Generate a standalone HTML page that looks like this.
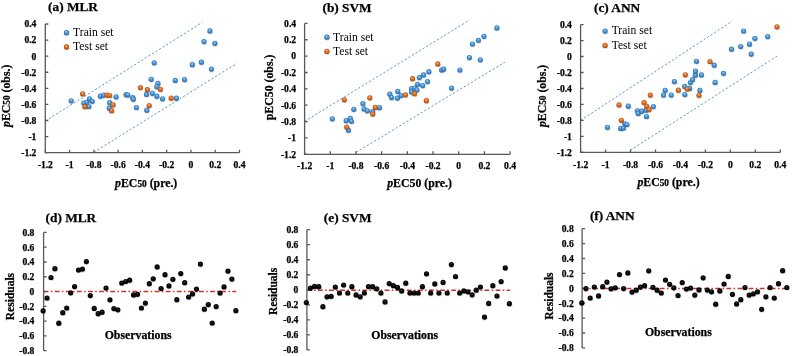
<!DOCTYPE html>
<html><head><meta charset="utf-8"><title>Figure</title>
<style>
html,body{margin:0;padding:0;background:#fff;}
svg{display:block;will-change:transform;filter:blur(0.35px);}
text{font-family:"Liberation Serif", serif;fill:#000;}
.tk,.tt,.al,.ob,.rs{stroke:#000;stroke-width:0.25px;}
.tk{font-size:9.6px;font-weight:bold;}
.lg{font-size:11.6px;}
.tt{font-size:13.3px;font-weight:bold;}
.al{font-size:11.8px;font-weight:bold;}
.ob{font-size:11.8px;font-weight:bold;}
.rs{font-size:11.5px;font-weight:bold;}
</style></head><body>
<svg width="792" height="356" viewBox="0 0 792 356">
<rect width="792" height="356" fill="#fff"/>

<defs>
 <radialGradient id="gb" cx="0.5" cy="0.5" r="0.5" fx="0.45" fy="0.28">
  <stop offset="0" stop-color="#a6d6f7"/>
  <stop offset="0.45" stop-color="#4f9ee0"/>
  <stop offset="1" stop-color="#2b6cab"/>
 </radialGradient>
 <radialGradient id="go" cx="0.5" cy="0.5" r="0.5" fx="0.45" fy="0.28">
  <stop offset="0" stop-color="#f9b57a"/>
  <stop offset="0.45" stop-color="#e97526"/>
  <stop offset="1" stop-color="#a94b12"/>
 </radialGradient>
 <radialGradient id="gk" cx="0.5" cy="0.5" r="0.5" fx="0.45" fy="0.3">
  <stop offset="0" stop-color="#3a3a3a"/>
  <stop offset="0.45" stop-color="#080808"/>
  <stop offset="1" stop-color="#000"/>
 </radialGradient>
 <radialGradient id="gs" cx="0.5" cy="0.5" r="0.5">
  <stop offset="0" stop-color="#000" stop-opacity="0.35"/>
  <stop offset="1" stop-color="#000" stop-opacity="0"/>
 </radialGradient>
</defs>

<line x1="45.3" y1="121.1" x2="202.4" y2="22.3" stroke="#5b9bd5" stroke-width="1" stroke-dasharray="2.2 2"/>
<line x1="93.9" y1="152.2" x2="236.9" y2="63.35" stroke="#5b9bd5" stroke-width="1" stroke-dasharray="2.2 2"/>
<path d="M45.3 24V152.7H239.5" fill="none" stroke="#595959" stroke-width="1.3"/>
<path d="M45.3 24H48.3M45.3 152.7V149.7M45.3 40.09H48.3M69.57 152.7V149.7M45.3 56.17H48.3M93.85 152.7V149.7M45.3 72.26H48.3M118.12 152.7V149.7M45.3 88.35H48.3M142.4 152.7V149.7M45.3 104.44H48.3M166.68 152.7V149.7M45.3 120.52H48.3M190.95 152.7V149.7M45.3 136.61H48.3M215.22 152.7V149.7M45.3 152.7H48.3M239.5 152.7V149.7" stroke="#595959" stroke-width="1.3" fill="none"/>
<text x="36.4" y="27.35" text-anchor="end" class="tk">0.4</text>
<text x="45.3" y="167.6" text-anchor="middle" class="tk">-1.2</text>
<text x="36.4" y="43.44" text-anchor="end" class="tk">0.2</text>
<text x="69.57" y="167.6" text-anchor="middle" class="tk">-1</text>
<text x="36.4" y="59.52" text-anchor="end" class="tk">0</text>
<text x="93.85" y="167.6" text-anchor="middle" class="tk">-0.8</text>
<text x="36.4" y="75.61" text-anchor="end" class="tk">-0.2</text>
<text x="118.12" y="167.6" text-anchor="middle" class="tk">-0.6</text>
<text x="36.4" y="91.7" text-anchor="end" class="tk">-0.4</text>
<text x="142.4" y="167.6" text-anchor="middle" class="tk">-0.4</text>
<text x="36.4" y="107.79" text-anchor="end" class="tk">-0.6</text>
<text x="166.68" y="167.6" text-anchor="middle" class="tk">-0.2</text>
<text x="36.4" y="123.87" text-anchor="end" class="tk">-0.8</text>
<text x="190.95" y="167.6" text-anchor="middle" class="tk">0</text>
<text x="36.4" y="139.96" text-anchor="end" class="tk">-1</text>
<text x="215.22" y="167.6" text-anchor="middle" class="tk">0.2</text>
<text x="36.4" y="156.05" text-anchor="end" class="tk">-1.2</text>
<text x="239.5" y="167.6" text-anchor="middle" class="tk">0.4</text>
<ellipse cx="71.5" cy="102.4" rx="3.5" ry="2.34" fill="url(#gs)"/><circle cx="71.2" cy="100.8" r="2.6" fill="url(#gb)"/>
<ellipse cx="84.1" cy="104.7" rx="3.5" ry="2.34" fill="url(#gs)"/><circle cx="83.8" cy="103.1" r="2.6" fill="url(#gb)"/>
<ellipse cx="87.1" cy="103.9" rx="3.5" ry="2.34" fill="url(#gs)"/><circle cx="86.8" cy="102.3" r="2.6" fill="url(#gb)"/>
<ellipse cx="89.8" cy="100.5" rx="3.5" ry="2.34" fill="url(#gs)"/><circle cx="89.5" cy="98.9" r="2.6" fill="url(#gb)"/>
<ellipse cx="92.5" cy="102.9" rx="3.5" ry="2.34" fill="url(#gs)"/><circle cx="92.2" cy="101.3" r="2.6" fill="url(#gb)"/>
<ellipse cx="89.1" cy="108.1" rx="3.5" ry="2.34" fill="url(#gs)"/><circle cx="88.8" cy="106.5" r="2.6" fill="url(#gb)"/>
<ellipse cx="100.7" cy="97.8" rx="3.5" ry="2.34" fill="url(#gs)"/><circle cx="100.4" cy="96.2" r="2.6" fill="url(#gb)"/>
<ellipse cx="104.1" cy="96.7" rx="3.5" ry="2.34" fill="url(#gs)"/><circle cx="103.8" cy="95.1" r="2.6" fill="url(#gb)"/>
<ellipse cx="110" cy="104.3" rx="3.5" ry="2.34" fill="url(#gs)"/><circle cx="109.7" cy="102.7" r="2.6" fill="url(#gb)"/>
<ellipse cx="109.6" cy="109.8" rx="3.5" ry="2.34" fill="url(#gs)"/><circle cx="109.3" cy="108.2" r="2.6" fill="url(#gb)"/>
<ellipse cx="116.4" cy="98.4" rx="3.5" ry="2.34" fill="url(#gs)"/><circle cx="116.1" cy="96.8" r="2.6" fill="url(#gb)"/>
<ellipse cx="126.4" cy="96.2" rx="3.5" ry="2.34" fill="url(#gs)"/><circle cx="126.1" cy="94.6" r="2.6" fill="url(#gb)"/>
<ellipse cx="128.1" cy="96.6" rx="3.5" ry="2.34" fill="url(#gs)"/><circle cx="127.8" cy="95" r="2.6" fill="url(#gb)"/>
<ellipse cx="133.1" cy="99.3" rx="3.5" ry="2.34" fill="url(#gs)"/><circle cx="132.8" cy="97.7" r="2.6" fill="url(#gb)"/>
<ellipse cx="133.6" cy="100.8" rx="3.5" ry="2.34" fill="url(#gs)"/><circle cx="133.3" cy="99.2" r="2.6" fill="url(#gb)"/>
<ellipse cx="136.7" cy="109.1" rx="3.5" ry="2.34" fill="url(#gs)"/><circle cx="136.4" cy="107.5" r="2.6" fill="url(#gb)"/>
<ellipse cx="147.1" cy="111.8" rx="3.5" ry="2.34" fill="url(#gs)"/><circle cx="146.8" cy="110.2" r="2.6" fill="url(#gb)"/>
<ellipse cx="146.8" cy="96" rx="3.5" ry="2.34" fill="url(#gs)"/><circle cx="146.5" cy="94.4" r="2.6" fill="url(#gb)"/>
<ellipse cx="152.6" cy="94.9" rx="3.5" ry="2.34" fill="url(#gs)"/><circle cx="152.3" cy="93.3" r="2.6" fill="url(#gb)"/>
<ellipse cx="157.2" cy="97.8" rx="3.5" ry="2.34" fill="url(#gs)"/><circle cx="156.9" cy="96.2" r="2.6" fill="url(#gb)"/>
<ellipse cx="162.8" cy="100.4" rx="3.5" ry="2.34" fill="url(#gs)"/><circle cx="162.5" cy="98.8" r="2.6" fill="url(#gb)"/>
<ellipse cx="176.7" cy="99.8" rx="3.5" ry="2.34" fill="url(#gs)"/><circle cx="176.4" cy="98.2" r="2.6" fill="url(#gb)"/>
<ellipse cx="151.5" cy="80.9" rx="3.5" ry="2.34" fill="url(#gs)"/><circle cx="151.2" cy="79.3" r="2.6" fill="url(#gb)"/>
<ellipse cx="158.3" cy="85" rx="3.5" ry="2.34" fill="url(#gs)"/><circle cx="158" cy="83.4" r="2.6" fill="url(#gb)"/>
<ellipse cx="157.2" cy="88.3" rx="3.5" ry="2.34" fill="url(#gs)"/><circle cx="156.9" cy="86.7" r="2.6" fill="url(#gb)"/>
<ellipse cx="154.5" cy="64.4" rx="3.5" ry="2.34" fill="url(#gs)"/><circle cx="154.2" cy="62.8" r="2.6" fill="url(#gb)"/>
<ellipse cx="175.5" cy="82" rx="3.5" ry="2.34" fill="url(#gs)"/><circle cx="175.2" cy="80.4" r="2.6" fill="url(#gb)"/>
<ellipse cx="184.8" cy="81.2" rx="3.5" ry="2.34" fill="url(#gs)"/><circle cx="184.5" cy="79.6" r="2.6" fill="url(#gb)"/>
<ellipse cx="192.6" cy="66.3" rx="3.5" ry="2.34" fill="url(#gs)"/><circle cx="192.3" cy="64.7" r="2.6" fill="url(#gb)"/>
<ellipse cx="201.7" cy="63.8" rx="3.5" ry="2.34" fill="url(#gs)"/><circle cx="201.4" cy="62.2" r="2.6" fill="url(#gb)"/>
<ellipse cx="211.7" cy="70.7" rx="3.5" ry="2.34" fill="url(#gs)"/><circle cx="211.4" cy="69.1" r="2.6" fill="url(#gb)"/>
<ellipse cx="204.3" cy="43.2" rx="3.5" ry="2.34" fill="url(#gs)"/><circle cx="204" cy="41.6" r="2.6" fill="url(#gb)"/>
<ellipse cx="215.2" cy="44.9" rx="3.5" ry="2.34" fill="url(#gs)"/><circle cx="214.9" cy="43.3" r="2.6" fill="url(#gb)"/>
<ellipse cx="210.2" cy="32.5" rx="3.5" ry="2.34" fill="url(#gs)"/><circle cx="209.9" cy="30.9" r="2.6" fill="url(#gb)"/>
<ellipse cx="82.9" cy="95.4" rx="3.5" ry="2.34" fill="url(#gs)"/><circle cx="82.6" cy="93.8" r="2.6" fill="url(#go)"/>
<ellipse cx="85.2" cy="108.3" rx="3.5" ry="2.34" fill="url(#gs)"/><circle cx="84.9" cy="106.7" r="2.6" fill="url(#go)"/>
<ellipse cx="107.3" cy="96.7" rx="3.5" ry="2.34" fill="url(#gs)"/><circle cx="107" cy="95.1" r="2.6" fill="url(#go)"/>
<ellipse cx="110" cy="97.1" rx="3.5" ry="2.34" fill="url(#gs)"/><circle cx="109.7" cy="95.5" r="2.6" fill="url(#go)"/>
<ellipse cx="113.4" cy="106.4" rx="3.5" ry="2.34" fill="url(#gs)"/><circle cx="113.1" cy="104.8" r="2.6" fill="url(#go)"/>
<ellipse cx="111.9" cy="112.3" rx="3.5" ry="2.34" fill="url(#gs)"/><circle cx="111.6" cy="110.7" r="2.6" fill="url(#go)"/>
<ellipse cx="140.7" cy="89.2" rx="3.5" ry="2.34" fill="url(#gs)"/><circle cx="140.4" cy="87.6" r="2.6" fill="url(#go)"/>
<ellipse cx="147.7" cy="91.3" rx="3.5" ry="2.34" fill="url(#gs)"/><circle cx="147.4" cy="89.7" r="2.6" fill="url(#go)"/>
<ellipse cx="160.7" cy="90.9" rx="3.5" ry="2.34" fill="url(#gs)"/><circle cx="160.4" cy="89.3" r="2.6" fill="url(#go)"/>
<ellipse cx="171.5" cy="99.8" rx="3.5" ry="2.34" fill="url(#gs)"/><circle cx="171.2" cy="98.2" r="2.6" fill="url(#go)"/>
<ellipse cx="149.5" cy="107.1" rx="3.5" ry="2.34" fill="url(#gs)"/><circle cx="149.2" cy="105.5" r="2.6" fill="url(#go)"/>
<ellipse cx="66.8" cy="34.3" rx="3.55" ry="2.38" fill="url(#gs)"/><circle cx="66.5" cy="32.7" r="2.65" fill="url(#gb)"/>
<ellipse cx="66.8" cy="48.6" rx="3.55" ry="2.38" fill="url(#gs)"/><circle cx="66.5" cy="47" r="2.65" fill="url(#go)"/>
<text x="73.1" y="36" class="lg">Train set</text>
<text x="73.1" y="50.3" class="lg">Test set</text>
<text x="48.1" y="10.9" class="tt">(a) MLR</text>
<text x="115.1" y="186.7" class="al"><tspan font-style="italic">p</tspan>EC<tspan font-size="9.3">50</tspan> (pre.)</text>
<text transform="translate(10.1 127) rotate(-90)" class="al"><tspan font-style="italic">p</tspan>EC<tspan font-size="9.3">50</tspan> (obs.)</text>
<line x1="304.6" y1="121.4" x2="469.5" y2="20.1" stroke="#5b9bd5" stroke-width="1" stroke-dasharray="2.2 2"/>
<line x1="356.1" y1="152.3" x2="504.9" y2="62.2" stroke="#5b9bd5" stroke-width="1" stroke-dasharray="2.2 2"/>
<path d="M304.6 23.4V154.3H510.1" fill="none" stroke="#595959" stroke-width="1.3"/>
<path d="M304.6 23.4H307.6M304.6 154.3V151.3M304.6 39.76H307.6M330.29 154.3V151.3M304.6 56.12H307.6M355.98 154.3V151.3M304.6 72.49H307.6M381.66 154.3V151.3M304.6 88.85H307.6M407.35 154.3V151.3M304.6 105.21H307.6M433.04 154.3V151.3M304.6 121.58H307.6M458.73 154.3V151.3M304.6 137.94H307.6M484.41 154.3V151.3M304.6 154.3H307.6M510.1 154.3V151.3" stroke="#595959" stroke-width="1.3" fill="none"/>
<text x="296.1" y="26.75" text-anchor="end" class="tk">0.4</text>
<text x="304.6" y="169.2" text-anchor="middle" class="tk">-1.2</text>
<text x="296.1" y="43.11" text-anchor="end" class="tk">0.2</text>
<text x="330.29" y="169.2" text-anchor="middle" class="tk">-1</text>
<text x="296.1" y="59.48" text-anchor="end" class="tk">0</text>
<text x="355.98" y="169.2" text-anchor="middle" class="tk">-0.8</text>
<text x="296.1" y="75.84" text-anchor="end" class="tk">-0.2</text>
<text x="381.66" y="169.2" text-anchor="middle" class="tk">-0.6</text>
<text x="296.1" y="92.2" text-anchor="end" class="tk">-0.4</text>
<text x="407.35" y="169.2" text-anchor="middle" class="tk">-0.4</text>
<text x="296.1" y="108.56" text-anchor="end" class="tk">-0.6</text>
<text x="433.04" y="169.2" text-anchor="middle" class="tk">-0.2</text>
<text x="296.1" y="124.93" text-anchor="end" class="tk">-0.8</text>
<text x="458.73" y="169.2" text-anchor="middle" class="tk">0</text>
<text x="296.1" y="141.29" text-anchor="end" class="tk">-1</text>
<text x="484.41" y="169.2" text-anchor="middle" class="tk">0.2</text>
<text x="296.1" y="157.65" text-anchor="end" class="tk">-1.2</text>
<text x="510.1" y="169.2" text-anchor="middle" class="tk">0.4</text>
<ellipse cx="332.6" cy="120.4" rx="3.5" ry="2.34" fill="url(#gs)"/><circle cx="332.3" cy="118.8" r="2.6" fill="url(#gb)"/>
<ellipse cx="346.5" cy="122.3" rx="3.5" ry="2.34" fill="url(#gs)"/><circle cx="346.2" cy="120.7" r="2.6" fill="url(#gb)"/>
<ellipse cx="350.6" cy="120" rx="3.5" ry="2.34" fill="url(#gs)"/><circle cx="350.3" cy="118.4" r="2.6" fill="url(#gb)"/>
<ellipse cx="351.8" cy="122.9" rx="3.5" ry="2.34" fill="url(#gs)"/><circle cx="351.5" cy="121.3" r="2.6" fill="url(#gb)"/>
<ellipse cx="348.7" cy="131.8" rx="3.5" ry="2.34" fill="url(#gs)"/><circle cx="348.4" cy="130.2" r="2.6" fill="url(#gb)"/>
<ellipse cx="354.1" cy="110.9" rx="3.5" ry="2.34" fill="url(#gs)"/><circle cx="353.8" cy="109.3" r="2.6" fill="url(#gb)"/>
<ellipse cx="363.2" cy="105.2" rx="3.5" ry="2.34" fill="url(#gs)"/><circle cx="362.9" cy="103.6" r="2.6" fill="url(#gb)"/>
<ellipse cx="364.4" cy="110.5" rx="3.5" ry="2.34" fill="url(#gs)"/><circle cx="364.1" cy="108.9" r="2.6" fill="url(#gb)"/>
<ellipse cx="367.6" cy="112.4" rx="3.5" ry="2.34" fill="url(#gs)"/><circle cx="367.3" cy="110.8" r="2.6" fill="url(#gb)"/>
<ellipse cx="373" cy="113.3" rx="3.5" ry="2.34" fill="url(#gs)"/><circle cx="372.7" cy="111.7" r="2.6" fill="url(#gb)"/>
<ellipse cx="379.8" cy="109.3" rx="3.5" ry="2.34" fill="url(#gs)"/><circle cx="379.5" cy="107.7" r="2.6" fill="url(#gb)"/>
<ellipse cx="390.2" cy="95.8" rx="3.5" ry="2.34" fill="url(#gs)"/><circle cx="389.9" cy="94.2" r="2.6" fill="url(#gb)"/>
<ellipse cx="391.9" cy="99.2" rx="3.5" ry="2.34" fill="url(#gs)"/><circle cx="391.6" cy="97.6" r="2.6" fill="url(#gb)"/>
<ellipse cx="398.1" cy="93" rx="3.5" ry="2.34" fill="url(#gs)"/><circle cx="397.8" cy="91.4" r="2.6" fill="url(#gb)"/>
<ellipse cx="397.7" cy="99.7" rx="3.5" ry="2.34" fill="url(#gs)"/><circle cx="397.4" cy="98.1" r="2.6" fill="url(#gb)"/>
<ellipse cx="401.4" cy="97.2" rx="3.5" ry="2.34" fill="url(#gs)"/><circle cx="401.1" cy="95.6" r="2.6" fill="url(#gb)"/>
<ellipse cx="411.8" cy="90.2" rx="3.5" ry="2.34" fill="url(#gs)"/><circle cx="411.5" cy="88.6" r="2.6" fill="url(#gb)"/>
<ellipse cx="411.8" cy="93.6" rx="3.5" ry="2.34" fill="url(#gs)"/><circle cx="411.5" cy="92" r="2.6" fill="url(#gb)"/>
<ellipse cx="414.9" cy="89.6" rx="3.5" ry="2.34" fill="url(#gs)"/><circle cx="414.6" cy="88" r="2.6" fill="url(#gb)"/>
<ellipse cx="417.2" cy="91.6" rx="3.5" ry="2.34" fill="url(#gs)"/><circle cx="416.9" cy="90" r="2.6" fill="url(#gb)"/>
<ellipse cx="417.9" cy="85.9" rx="3.5" ry="2.34" fill="url(#gs)"/><circle cx="417.6" cy="84.3" r="2.6" fill="url(#gb)"/>
<ellipse cx="423" cy="87.2" rx="3.5" ry="2.34" fill="url(#gs)"/><circle cx="422.7" cy="85.6" r="2.6" fill="url(#gb)"/>
<ellipse cx="419.6" cy="79.2" rx="3.5" ry="2.34" fill="url(#gs)"/><circle cx="419.3" cy="77.6" r="2.6" fill="url(#gb)"/>
<ellipse cx="423.9" cy="76.5" rx="3.5" ry="2.34" fill="url(#gs)"/><circle cx="423.6" cy="74.9" r="2.6" fill="url(#gb)"/>
<ellipse cx="427.8" cy="83.2" rx="3.5" ry="2.34" fill="url(#gs)"/><circle cx="427.5" cy="81.6" r="2.6" fill="url(#gb)"/>
<ellipse cx="429.2" cy="73.3" rx="3.5" ry="2.34" fill="url(#gs)"/><circle cx="428.9" cy="71.7" r="2.6" fill="url(#gb)"/>
<ellipse cx="441.9" cy="71.6" rx="3.5" ry="2.34" fill="url(#gs)"/><circle cx="441.6" cy="70" r="2.6" fill="url(#gb)"/>
<ellipse cx="443.9" cy="70.8" rx="3.5" ry="2.34" fill="url(#gs)"/><circle cx="443.6" cy="69.2" r="2.6" fill="url(#gb)"/>
<ellipse cx="460.2" cy="71.6" rx="3.5" ry="2.34" fill="url(#gs)"/><circle cx="459.9" cy="70" r="2.6" fill="url(#gb)"/>
<ellipse cx="469.7" cy="59.2" rx="3.5" ry="2.34" fill="url(#gs)"/><circle cx="469.4" cy="57.6" r="2.6" fill="url(#gb)"/>
<ellipse cx="480.6" cy="61.4" rx="3.5" ry="2.34" fill="url(#gs)"/><circle cx="480.3" cy="59.8" r="2.6" fill="url(#gb)"/>
<ellipse cx="451.8" cy="89.7" rx="3.5" ry="2.34" fill="url(#gs)"/><circle cx="451.5" cy="88.1" r="2.6" fill="url(#gb)"/>
<ellipse cx="472.7" cy="45.6" rx="3.5" ry="2.34" fill="url(#gs)"/><circle cx="472.4" cy="44" r="2.6" fill="url(#gb)"/>
<ellipse cx="478.7" cy="41.9" rx="3.5" ry="2.34" fill="url(#gs)"/><circle cx="478.4" cy="40.3" r="2.6" fill="url(#gb)"/>
<ellipse cx="484.3" cy="37.9" rx="3.5" ry="2.34" fill="url(#gs)"/><circle cx="484" cy="36.3" r="2.6" fill="url(#gb)"/>
<ellipse cx="497.2" cy="29.5" rx="3.5" ry="2.34" fill="url(#gs)"/><circle cx="496.9" cy="27.9" r="2.6" fill="url(#gb)"/>
<ellipse cx="344.6" cy="101.4" rx="3.5" ry="2.34" fill="url(#gs)"/><circle cx="344.3" cy="99.8" r="2.6" fill="url(#go)"/>
<ellipse cx="347" cy="128.6" rx="3.5" ry="2.34" fill="url(#gs)"/><circle cx="346.7" cy="127" r="2.6" fill="url(#go)"/>
<ellipse cx="370.1" cy="99.4" rx="3.5" ry="2.34" fill="url(#gs)"/><circle cx="369.8" cy="97.8" r="2.6" fill="url(#go)"/>
<ellipse cx="375.6" cy="109" rx="3.5" ry="2.34" fill="url(#gs)"/><circle cx="375.3" cy="107.4" r="2.6" fill="url(#go)"/>
<ellipse cx="373" cy="115.6" rx="3.5" ry="2.34" fill="url(#gs)"/><circle cx="372.7" cy="114" r="2.6" fill="url(#go)"/>
<ellipse cx="412.9" cy="80.3" rx="3.5" ry="2.34" fill="url(#gs)"/><circle cx="412.6" cy="78.7" r="2.6" fill="url(#go)"/>
<ellipse cx="405.8" cy="96.4" rx="3.5" ry="2.34" fill="url(#gs)"/><circle cx="405.5" cy="94.8" r="2.6" fill="url(#go)"/>
<ellipse cx="414.8" cy="95.3" rx="3.5" ry="2.34" fill="url(#gs)"/><circle cx="414.5" cy="93.7" r="2.6" fill="url(#go)"/>
<ellipse cx="426.7" cy="102.3" rx="3.5" ry="2.34" fill="url(#gs)"/><circle cx="426.4" cy="100.7" r="2.6" fill="url(#go)"/>
<ellipse cx="438.1" cy="65.5" rx="3.5" ry="2.34" fill="url(#gs)"/><circle cx="437.8" cy="63.9" r="2.6" fill="url(#go)"/>
<ellipse cx="327.2" cy="38.8" rx="3.55" ry="2.38" fill="url(#gs)"/><circle cx="326.9" cy="37.2" r="2.65" fill="url(#gb)"/>
<ellipse cx="327.2" cy="53" rx="3.55" ry="2.38" fill="url(#gs)"/><circle cx="326.9" cy="51.4" r="2.65" fill="url(#go)"/>
<text x="333.1" y="40.5" class="lg">Train set</text>
<text x="333.1" y="54.7" class="lg">Test set</text>
<text x="322.5" y="11.9" class="tt">(b) SVM</text>
<text x="387.2" y="187.3" class="al"><tspan font-style="italic">p</tspan>EC50 (pre.)</text>
<text transform="translate(273.2 120.2) rotate(-90)" class="al">pEC50 (obs.)</text>
<line x1="580.6" y1="120.3" x2="732.2" y2="21.2" stroke="#5b9bd5" stroke-width="1" stroke-dasharray="2.2 2"/>
<line x1="630.4" y1="150.1" x2="778.9" y2="55" stroke="#5b9bd5" stroke-width="1" stroke-dasharray="2.2 2"/>
<path d="M580.6 24.55V152.4H780.3" fill="none" stroke="#595959" stroke-width="1.3"/>
<path d="M580.6 24.55H583.6M580.6 152.4V149.4M580.6 40.53H583.6M605.56 152.4V149.4M580.6 56.51H583.6M630.52 152.4V149.4M580.6 72.49H583.6M655.49 152.4V149.4M580.6 88.48H583.6M680.45 152.4V149.4M580.6 104.46H583.6M705.41 152.4V149.4M580.6 120.44H583.6M730.38 152.4V149.4M580.6 136.42H583.6M755.34 152.4V149.4M580.6 152.4H583.6M780.3 152.4V149.4" stroke="#595959" stroke-width="1.3" fill="none"/>
<text x="571.9" y="27.9" text-anchor="end" class="tk">0.4</text>
<text x="580.6" y="167.6" text-anchor="middle" class="tk">-1.2</text>
<text x="571.9" y="43.88" text-anchor="end" class="tk">0.2</text>
<text x="605.56" y="167.6" text-anchor="middle" class="tk">-1</text>
<text x="571.9" y="59.86" text-anchor="end" class="tk">0</text>
<text x="630.52" y="167.6" text-anchor="middle" class="tk">-0.8</text>
<text x="571.9" y="75.84" text-anchor="end" class="tk">-0.2</text>
<text x="655.49" y="167.6" text-anchor="middle" class="tk">-0.6</text>
<text x="571.9" y="91.83" text-anchor="end" class="tk">-0.4</text>
<text x="680.45" y="167.6" text-anchor="middle" class="tk">-0.4</text>
<text x="571.9" y="107.81" text-anchor="end" class="tk">-0.6</text>
<text x="705.41" y="167.6" text-anchor="middle" class="tk">-0.2</text>
<text x="571.9" y="123.79" text-anchor="end" class="tk">-0.8</text>
<text x="730.38" y="167.6" text-anchor="middle" class="tk">0</text>
<text x="571.9" y="139.77" text-anchor="end" class="tk">-1</text>
<text x="755.34" y="167.6" text-anchor="middle" class="tk">0.2</text>
<text x="571.9" y="155.75" text-anchor="end" class="tk">-1.2</text>
<text x="780.3" y="167.6" text-anchor="middle" class="tk">0.4</text>
<ellipse cx="607.7" cy="128.9" rx="3.5" ry="2.34" fill="url(#gs)"/><circle cx="607.4" cy="127.3" r="2.6" fill="url(#gb)"/>
<ellipse cx="621" cy="130" rx="3.5" ry="2.34" fill="url(#gs)"/><circle cx="620.7" cy="128.4" r="2.6" fill="url(#gb)"/>
<ellipse cx="623.8" cy="129.6" rx="3.5" ry="2.34" fill="url(#gs)"/><circle cx="623.5" cy="128" r="2.6" fill="url(#gb)"/>
<ellipse cx="625.2" cy="125.4" rx="3.5" ry="2.34" fill="url(#gs)"/><circle cx="624.9" cy="123.8" r="2.6" fill="url(#gb)"/>
<ellipse cx="627.3" cy="126.1" rx="3.5" ry="2.34" fill="url(#gs)"/><circle cx="627" cy="124.5" r="2.6" fill="url(#gb)"/>
<ellipse cx="628.6" cy="107.8" rx="3.5" ry="2.34" fill="url(#gs)"/><circle cx="628.3" cy="106.2" r="2.6" fill="url(#gb)"/>
<ellipse cx="637.6" cy="112.4" rx="3.5" ry="2.34" fill="url(#gs)"/><circle cx="637.3" cy="110.8" r="2.6" fill="url(#gb)"/>
<ellipse cx="638.5" cy="115" rx="3.5" ry="2.34" fill="url(#gs)"/><circle cx="638.2" cy="113.4" r="2.6" fill="url(#gb)"/>
<ellipse cx="642" cy="112.8" rx="3.5" ry="2.34" fill="url(#gs)"/><circle cx="641.7" cy="111.2" r="2.6" fill="url(#gb)"/>
<ellipse cx="646.4" cy="111.8" rx="3.5" ry="2.34" fill="url(#gs)"/><circle cx="646.1" cy="110.2" r="2.6" fill="url(#gb)"/>
<ellipse cx="646.8" cy="118.1" rx="3.5" ry="2.34" fill="url(#gs)"/><circle cx="646.5" cy="116.5" r="2.6" fill="url(#gb)"/>
<ellipse cx="653.6" cy="108.2" rx="3.5" ry="2.34" fill="url(#gs)"/><circle cx="653.3" cy="106.6" r="2.6" fill="url(#gb)"/>
<ellipse cx="663.8" cy="96.7" rx="3.5" ry="2.34" fill="url(#gs)"/><circle cx="663.5" cy="95.1" r="2.6" fill="url(#gb)"/>
<ellipse cx="665.5" cy="91.9" rx="3.5" ry="2.34" fill="url(#gs)"/><circle cx="665.2" cy="90.3" r="2.6" fill="url(#gb)"/>
<ellipse cx="671.5" cy="96.7" rx="3.5" ry="2.34" fill="url(#gs)"/><circle cx="671.2" cy="95.1" r="2.6" fill="url(#gb)"/>
<ellipse cx="674.7" cy="83.2" rx="3.5" ry="2.34" fill="url(#gs)"/><circle cx="674.4" cy="81.6" r="2.6" fill="url(#gb)"/>
<ellipse cx="685" cy="88" rx="3.5" ry="2.34" fill="url(#gs)"/><circle cx="684.7" cy="86.4" r="2.6" fill="url(#gb)"/>
<ellipse cx="685.1" cy="96.1" rx="3.5" ry="2.34" fill="url(#gs)"/><circle cx="684.8" cy="94.5" r="2.6" fill="url(#gb)"/>
<ellipse cx="689.9" cy="90" rx="3.5" ry="2.34" fill="url(#gs)"/><circle cx="689.6" cy="88.4" r="2.6" fill="url(#gb)"/>
<ellipse cx="690.7" cy="84.2" rx="3.5" ry="2.34" fill="url(#gs)"/><circle cx="690.4" cy="82.6" r="2.6" fill="url(#gb)"/>
<ellipse cx="692.9" cy="81.2" rx="3.5" ry="2.34" fill="url(#gs)"/><circle cx="692.6" cy="79.6" r="2.6" fill="url(#gb)"/>
<ellipse cx="695.6" cy="76.8" rx="3.5" ry="2.34" fill="url(#gs)"/><circle cx="695.3" cy="75.2" r="2.6" fill="url(#gb)"/>
<ellipse cx="695.8" cy="72.7" rx="3.5" ry="2.34" fill="url(#gs)"/><circle cx="695.5" cy="71.1" r="2.6" fill="url(#gb)"/>
<ellipse cx="696.8" cy="62.9" rx="3.5" ry="2.34" fill="url(#gs)"/><circle cx="696.5" cy="61.3" r="2.6" fill="url(#gb)"/>
<ellipse cx="701.7" cy="76.5" rx="3.5" ry="2.34" fill="url(#gs)"/><circle cx="701.4" cy="74.9" r="2.6" fill="url(#gb)"/>
<ellipse cx="700.2" cy="92" rx="3.5" ry="2.34" fill="url(#gs)"/><circle cx="699.9" cy="90.4" r="2.6" fill="url(#gb)"/>
<ellipse cx="714.5" cy="66.8" rx="3.5" ry="2.34" fill="url(#gs)"/><circle cx="714.2" cy="65.2" r="2.6" fill="url(#gb)"/>
<ellipse cx="723.8" cy="74.9" rx="3.5" ry="2.34" fill="url(#gs)"/><circle cx="723.5" cy="73.3" r="2.6" fill="url(#gb)"/>
<ellipse cx="715.4" cy="84" rx="3.5" ry="2.34" fill="url(#gs)"/><circle cx="715.1" cy="82.4" r="2.6" fill="url(#gb)"/>
<ellipse cx="731.8" cy="50.8" rx="3.5" ry="2.34" fill="url(#gs)"/><circle cx="731.5" cy="49.2" r="2.6" fill="url(#gb)"/>
<ellipse cx="741" cy="48.1" rx="3.5" ry="2.34" fill="url(#gs)"/><circle cx="740.7" cy="46.5" r="2.6" fill="url(#gb)"/>
<ellipse cx="743.9" cy="32.6" rx="3.5" ry="2.34" fill="url(#gs)"/><circle cx="743.6" cy="31" r="2.6" fill="url(#gb)"/>
<ellipse cx="749.8" cy="45.8" rx="3.5" ry="2.34" fill="url(#gs)"/><circle cx="749.5" cy="44.2" r="2.6" fill="url(#gb)"/>
<ellipse cx="755.2" cy="39.9" rx="3.5" ry="2.34" fill="url(#gs)"/><circle cx="754.9" cy="38.3" r="2.6" fill="url(#gb)"/>
<ellipse cx="751.5" cy="55.7" rx="3.5" ry="2.34" fill="url(#gs)"/><circle cx="751.2" cy="54.1" r="2.6" fill="url(#gb)"/>
<ellipse cx="768" cy="38.2" rx="3.5" ry="2.34" fill="url(#gs)"/><circle cx="767.7" cy="36.6" r="2.6" fill="url(#gb)"/>
<ellipse cx="619.3" cy="106.5" rx="3.5" ry="2.34" fill="url(#gs)"/><circle cx="619" cy="104.9" r="2.6" fill="url(#go)"/>
<ellipse cx="621.6" cy="121.9" rx="3.5" ry="2.34" fill="url(#gs)"/><circle cx="621.3" cy="120.3" r="2.6" fill="url(#go)"/>
<ellipse cx="644.4" cy="104.2" rx="3.5" ry="2.34" fill="url(#gs)"/><circle cx="644.1" cy="102.6" r="2.6" fill="url(#go)"/>
<ellipse cx="647.1" cy="107.9" rx="3.5" ry="2.34" fill="url(#gs)"/><circle cx="646.8" cy="106.3" r="2.6" fill="url(#go)"/>
<ellipse cx="649.4" cy="111.2" rx="3.5" ry="2.34" fill="url(#gs)"/><circle cx="649.1" cy="109.6" r="2.6" fill="url(#go)"/>
<ellipse cx="650.6" cy="96.7" rx="3.5" ry="2.34" fill="url(#gs)"/><circle cx="650.3" cy="95.1" r="2.6" fill="url(#go)"/>
<ellipse cx="678.7" cy="91.8" rx="3.5" ry="2.34" fill="url(#gs)"/><circle cx="678.4" cy="90.2" r="2.6" fill="url(#go)"/>
<ellipse cx="685.6" cy="76.4" rx="3.5" ry="2.34" fill="url(#gs)"/><circle cx="685.3" cy="74.8" r="2.6" fill="url(#go)"/>
<ellipse cx="687.5" cy="90.6" rx="3.5" ry="2.34" fill="url(#gs)"/><circle cx="687.2" cy="89" r="2.6" fill="url(#go)"/>
<ellipse cx="699.3" cy="96.9" rx="3.5" ry="2.34" fill="url(#gs)"/><circle cx="699" cy="95.3" r="2.6" fill="url(#go)"/>
<ellipse cx="710.3" cy="63.1" rx="3.5" ry="2.34" fill="url(#gs)"/><circle cx="710" cy="61.5" r="2.6" fill="url(#go)"/>
<ellipse cx="777.3" cy="28.4" rx="3.5" ry="2.34" fill="url(#gs)"/><circle cx="777" cy="26.8" r="2.6" fill="url(#go)"/>
<ellipse cx="605.4" cy="32.7" rx="3.55" ry="2.38" fill="url(#gs)"/><circle cx="605.1" cy="31.1" r="2.65" fill="url(#gb)"/>
<ellipse cx="605.4" cy="47" rx="3.55" ry="2.38" fill="url(#gs)"/><circle cx="605.1" cy="45.4" r="2.65" fill="url(#go)"/>
<text x="611.7" y="34.4" class="lg">Train set</text>
<text x="611.7" y="48.7" class="lg">Test set</text>
<text x="594" y="11.7" class="tt">(c) ANN</text>
<text x="637.4" y="186.2" class="al"><tspan font-style="italic">p</tspan>EC<tspan font-size="9.3">50</tspan> (pre.)</text>
<text transform="translate(546.4 127.1) rotate(-90)" class="al"><tspan font-style="italic">p</tspan>EC<tspan font-size="9.3">50</tspan> (obs.)</text>
<line x1="43.6" y1="291.55" x2="236.2" y2="291.55" stroke="#d2302a" stroke-width="1.5" stroke-dasharray="4.8 2.4 1.5 2.4"/>
<path d="M43.6 232.4V350.7M43.6 232.4H46.6M43.6 247.19H46.6M43.6 261.98H46.6M43.6 276.76H46.6M43.6 291.55H46.6M43.6 306.34H46.6M43.6 321.12H46.6M43.6 335.91H46.6M43.6 350.7H46.6" stroke="#595959" stroke-width="1.3" fill="none"/>
<text x="34.4" y="235.75" text-anchor="end" class="tk">0.8</text>
<text x="34.4" y="250.54" text-anchor="end" class="tk">0.6</text>
<text x="34.4" y="265.33" text-anchor="end" class="tk">0.4</text>
<text x="34.4" y="280.11" text-anchor="end" class="tk">0.2</text>
<text x="34.4" y="294.9" text-anchor="end" class="tk">0</text>
<text x="34.4" y="309.69" text-anchor="end" class="tk">-0.2</text>
<text x="34.4" y="324.48" text-anchor="end" class="tk">-0.4</text>
<text x="34.4" y="339.26" text-anchor="end" class="tk">-0.6</text>
<text x="34.4" y="354.05" text-anchor="end" class="tk">-0.8</text>
<ellipse cx="43.4" cy="312.4" rx="3.5" ry="2.34" fill="url(#gs)"/><circle cx="43.1" cy="310.8" r="2.6" fill="url(#gk)"/>
<ellipse cx="47.33" cy="299.6" rx="3.5" ry="2.34" fill="url(#gs)"/><circle cx="47.03" cy="298" r="2.6" fill="url(#gk)"/>
<ellipse cx="51.27" cy="279.1" rx="3.5" ry="2.34" fill="url(#gs)"/><circle cx="50.97" cy="277.5" r="2.6" fill="url(#gk)"/>
<ellipse cx="55.2" cy="270.3" rx="3.5" ry="2.34" fill="url(#gs)"/><circle cx="54.9" cy="268.7" r="2.6" fill="url(#gk)"/>
<ellipse cx="59.13" cy="324.8" rx="3.5" ry="2.34" fill="url(#gs)"/><circle cx="58.83" cy="323.2" r="2.6" fill="url(#gk)"/>
<ellipse cx="63.06" cy="314.3" rx="3.5" ry="2.34" fill="url(#gs)"/><circle cx="62.77" cy="312.7" r="2.6" fill="url(#gk)"/>
<ellipse cx="67" cy="309.6" rx="3.5" ry="2.34" fill="url(#gs)"/><circle cx="66.7" cy="308" r="2.6" fill="url(#gk)"/>
<ellipse cx="70.93" cy="294.4" rx="3.5" ry="2.34" fill="url(#gs)"/><circle cx="70.63" cy="292.8" r="2.6" fill="url(#gk)"/>
<ellipse cx="74.86" cy="288.2" rx="3.5" ry="2.34" fill="url(#gs)"/><circle cx="74.56" cy="286.6" r="2.6" fill="url(#gk)"/>
<ellipse cx="78.8" cy="271.6" rx="3.5" ry="2.34" fill="url(#gs)"/><circle cx="78.5" cy="270" r="2.6" fill="url(#gk)"/>
<ellipse cx="82.73" cy="270.7" rx="3.5" ry="2.34" fill="url(#gs)"/><circle cx="82.43" cy="269.1" r="2.6" fill="url(#gk)"/>
<ellipse cx="86.66" cy="263.2" rx="3.5" ry="2.34" fill="url(#gs)"/><circle cx="86.36" cy="261.6" r="2.6" fill="url(#gk)"/>
<ellipse cx="90.6" cy="297.2" rx="3.5" ry="2.34" fill="url(#gs)"/><circle cx="90.3" cy="295.6" r="2.6" fill="url(#gk)"/>
<ellipse cx="94.53" cy="310" rx="3.5" ry="2.34" fill="url(#gs)"/><circle cx="94.23" cy="308.4" r="2.6" fill="url(#gk)"/>
<ellipse cx="98.46" cy="315.3" rx="3.5" ry="2.34" fill="url(#gs)"/><circle cx="98.16" cy="313.7" r="2.6" fill="url(#gk)"/>
<ellipse cx="102.39" cy="313.8" rx="3.5" ry="2.34" fill="url(#gs)"/><circle cx="102.09" cy="312.2" r="2.6" fill="url(#gk)"/>
<ellipse cx="106.33" cy="289.7" rx="3.5" ry="2.34" fill="url(#gs)"/><circle cx="106.03" cy="288.1" r="2.6" fill="url(#gk)"/>
<ellipse cx="110.26" cy="301.4" rx="3.5" ry="2.34" fill="url(#gs)"/><circle cx="109.96" cy="299.8" r="2.6" fill="url(#gk)"/>
<ellipse cx="114.19" cy="310.2" rx="3.5" ry="2.34" fill="url(#gs)"/><circle cx="113.89" cy="308.6" r="2.6" fill="url(#gk)"/>
<ellipse cx="118.13" cy="311.4" rx="3.5" ry="2.34" fill="url(#gs)"/><circle cx="117.83" cy="309.8" r="2.6" fill="url(#gk)"/>
<ellipse cx="122.06" cy="284.6" rx="3.5" ry="2.34" fill="url(#gs)"/><circle cx="121.76" cy="283" r="2.6" fill="url(#gk)"/>
<ellipse cx="125.99" cy="283.1" rx="3.5" ry="2.34" fill="url(#gs)"/><circle cx="125.69" cy="281.5" r="2.6" fill="url(#gk)"/>
<ellipse cx="129.93" cy="281.8" rx="3.5" ry="2.34" fill="url(#gs)"/><circle cx="129.63" cy="280.2" r="2.6" fill="url(#gk)"/>
<ellipse cx="133.86" cy="296.5" rx="3.5" ry="2.34" fill="url(#gs)"/><circle cx="133.56" cy="294.9" r="2.6" fill="url(#gk)"/>
<ellipse cx="137.79" cy="295.9" rx="3.5" ry="2.34" fill="url(#gs)"/><circle cx="137.49" cy="294.3" r="2.6" fill="url(#gk)"/>
<ellipse cx="141.72" cy="309.6" rx="3.5" ry="2.34" fill="url(#gs)"/><circle cx="141.42" cy="308" r="2.6" fill="url(#gk)"/>
<ellipse cx="145.66" cy="304.7" rx="3.5" ry="2.34" fill="url(#gs)"/><circle cx="145.36" cy="303.1" r="2.6" fill="url(#gk)"/>
<ellipse cx="149.59" cy="285.3" rx="3.5" ry="2.34" fill="url(#gs)"/><circle cx="149.29" cy="283.7" r="2.6" fill="url(#gk)"/>
<ellipse cx="153.52" cy="280.4" rx="3.5" ry="2.34" fill="url(#gs)"/><circle cx="153.22" cy="278.8" r="2.6" fill="url(#gk)"/>
<ellipse cx="157.46" cy="268.5" rx="3.5" ry="2.34" fill="url(#gs)"/><circle cx="157.16" cy="266.9" r="2.6" fill="url(#gk)"/>
<ellipse cx="161.39" cy="290.1" rx="3.5" ry="2.34" fill="url(#gs)"/><circle cx="161.09" cy="288.5" r="2.6" fill="url(#gk)"/>
<ellipse cx="165.32" cy="276.3" rx="3.5" ry="2.34" fill="url(#gs)"/><circle cx="165.02" cy="274.7" r="2.6" fill="url(#gk)"/>
<ellipse cx="169.26" cy="287.5" rx="3.5" ry="2.34" fill="url(#gs)"/><circle cx="168.96" cy="285.9" r="2.6" fill="url(#gk)"/>
<ellipse cx="173.19" cy="280.9" rx="3.5" ry="2.34" fill="url(#gs)"/><circle cx="172.89" cy="279.3" r="2.6" fill="url(#gk)"/>
<ellipse cx="177.12" cy="301.3" rx="3.5" ry="2.34" fill="url(#gs)"/><circle cx="176.82" cy="299.7" r="2.6" fill="url(#gk)"/>
<ellipse cx="181.06" cy="275.2" rx="3.5" ry="2.34" fill="url(#gs)"/><circle cx="180.75" cy="273.6" r="2.6" fill="url(#gk)"/>
<ellipse cx="184.99" cy="284.3" rx="3.5" ry="2.34" fill="url(#gs)"/><circle cx="184.69" cy="282.7" r="2.6" fill="url(#gk)"/>
<ellipse cx="188.92" cy="298.6" rx="3.5" ry="2.34" fill="url(#gs)"/><circle cx="188.62" cy="297" r="2.6" fill="url(#gk)"/>
<ellipse cx="192.85" cy="295.5" rx="3.5" ry="2.34" fill="url(#gs)"/><circle cx="192.55" cy="293.9" r="2.6" fill="url(#gk)"/>
<ellipse cx="196.79" cy="290.7" rx="3.5" ry="2.34" fill="url(#gs)"/><circle cx="196.49" cy="289.1" r="2.6" fill="url(#gk)"/>
<ellipse cx="200.72" cy="265.7" rx="3.5" ry="2.34" fill="url(#gs)"/><circle cx="200.42" cy="264.1" r="2.6" fill="url(#gk)"/>
<ellipse cx="204.65" cy="310.8" rx="3.5" ry="2.34" fill="url(#gs)"/><circle cx="204.35" cy="309.2" r="2.6" fill="url(#gk)"/>
<ellipse cx="208.59" cy="306.2" rx="3.5" ry="2.34" fill="url(#gs)"/><circle cx="208.29" cy="304.6" r="2.6" fill="url(#gk)"/>
<ellipse cx="212.52" cy="324.6" rx="3.5" ry="2.34" fill="url(#gs)"/><circle cx="212.22" cy="323" r="2.6" fill="url(#gk)"/>
<ellipse cx="216.45" cy="308.2" rx="3.5" ry="2.34" fill="url(#gs)"/><circle cx="216.15" cy="306.6" r="2.6" fill="url(#gk)"/>
<ellipse cx="220.38" cy="294.6" rx="3.5" ry="2.34" fill="url(#gs)"/><circle cx="220.08" cy="293" r="2.6" fill="url(#gk)"/>
<ellipse cx="224.32" cy="288.5" rx="3.5" ry="2.34" fill="url(#gs)"/><circle cx="224.02" cy="286.9" r="2.6" fill="url(#gk)"/>
<ellipse cx="228.25" cy="272.7" rx="3.5" ry="2.34" fill="url(#gs)"/><circle cx="227.95" cy="271.1" r="2.6" fill="url(#gk)"/>
<ellipse cx="232.18" cy="280.7" rx="3.5" ry="2.34" fill="url(#gs)"/><circle cx="231.88" cy="279.1" r="2.6" fill="url(#gk)"/>
<ellipse cx="236.12" cy="312.3" rx="3.5" ry="2.34" fill="url(#gs)"/><circle cx="235.82" cy="310.7" r="2.6" fill="url(#gk)"/>
<text x="45.6" y="222" class="tt">(d) MLR</text>
<text x="104.7" y="338.8" class="ob">Observations</text>
<text transform="translate(13.7 320.2) rotate(-90)" class="rs">Residuals</text>
<line x1="306.9" y1="290.3" x2="510" y2="290.3" stroke="#d2302a" stroke-width="1.5" stroke-dasharray="4.8 2.4 1.5 2.4"/>
<path d="M306.9 229.7V349.9M306.9 229.7H309.9M306.9 244.72H309.9M306.9 259.75H309.9M306.9 274.77H309.9M306.9 289.8H309.9M306.9 304.82H309.9M306.9 319.85H309.9M306.9 334.88H309.9M306.9 349.9H309.9" stroke="#595959" stroke-width="1.3" fill="none"/>
<text x="298.4" y="233.05" text-anchor="end" class="tk">0.8</text>
<text x="298.4" y="248.07" text-anchor="end" class="tk">0.6</text>
<text x="298.4" y="263.1" text-anchor="end" class="tk">0.4</text>
<text x="298.4" y="278.12" text-anchor="end" class="tk">0.2</text>
<text x="298.4" y="293.15" text-anchor="end" class="tk">0</text>
<text x="298.4" y="308.18" text-anchor="end" class="tk">-0.2</text>
<text x="298.4" y="323.2" text-anchor="end" class="tk">-0.4</text>
<text x="298.4" y="338.23" text-anchor="end" class="tk">-0.6</text>
<text x="298.4" y="353.25" text-anchor="end" class="tk">-0.8</text>
<ellipse cx="306.6" cy="304.1" rx="3.5" ry="2.34" fill="url(#gs)"/><circle cx="306.3" cy="302.5" r="2.6" fill="url(#gk)"/>
<ellipse cx="310.75" cy="289.7" rx="3.5" ry="2.34" fill="url(#gs)"/><circle cx="310.44" cy="288.1" r="2.6" fill="url(#gk)"/>
<ellipse cx="314.89" cy="288" rx="3.5" ry="2.34" fill="url(#gs)"/><circle cx="314.59" cy="286.4" r="2.6" fill="url(#gk)"/>
<ellipse cx="319.04" cy="288.3" rx="3.5" ry="2.34" fill="url(#gs)"/><circle cx="318.74" cy="286.7" r="2.6" fill="url(#gk)"/>
<ellipse cx="323.18" cy="308.3" rx="3.5" ry="2.34" fill="url(#gs)"/><circle cx="322.88" cy="306.7" r="2.6" fill="url(#gk)"/>
<ellipse cx="327.33" cy="298.4" rx="3.5" ry="2.34" fill="url(#gs)"/><circle cx="327.03" cy="296.8" r="2.6" fill="url(#gk)"/>
<ellipse cx="331.47" cy="297.9" rx="3.5" ry="2.34" fill="url(#gs)"/><circle cx="331.17" cy="296.3" r="2.6" fill="url(#gk)"/>
<ellipse cx="335.62" cy="288.6" rx="3.5" ry="2.34" fill="url(#gs)"/><circle cx="335.31" cy="287" r="2.6" fill="url(#gk)"/>
<ellipse cx="339.76" cy="294.6" rx="3.5" ry="2.34" fill="url(#gs)"/><circle cx="339.46" cy="293" r="2.6" fill="url(#gk)"/>
<ellipse cx="343.91" cy="286.6" rx="3.5" ry="2.34" fill="url(#gs)"/><circle cx="343.61" cy="285" r="2.6" fill="url(#gk)"/>
<ellipse cx="348.05" cy="294.6" rx="3.5" ry="2.34" fill="url(#gs)"/><circle cx="347.75" cy="293" r="2.6" fill="url(#gk)"/>
<ellipse cx="352.19" cy="288.3" rx="3.5" ry="2.34" fill="url(#gs)"/><circle cx="351.89" cy="286.7" r="2.6" fill="url(#gk)"/>
<ellipse cx="356.34" cy="296.5" rx="3.5" ry="2.34" fill="url(#gs)"/><circle cx="356.04" cy="294.9" r="2.6" fill="url(#gk)"/>
<ellipse cx="360.49" cy="298.4" rx="3.5" ry="2.34" fill="url(#gs)"/><circle cx="360.19" cy="296.8" r="2.6" fill="url(#gk)"/>
<ellipse cx="364.63" cy="294.6" rx="3.5" ry="2.34" fill="url(#gs)"/><circle cx="364.33" cy="293" r="2.6" fill="url(#gk)"/>
<ellipse cx="368.78" cy="288.2" rx="3.5" ry="2.34" fill="url(#gs)"/><circle cx="368.48" cy="286.6" r="2.6" fill="url(#gk)"/>
<ellipse cx="372.92" cy="288.3" rx="3.5" ry="2.34" fill="url(#gs)"/><circle cx="372.62" cy="286.7" r="2.6" fill="url(#gk)"/>
<ellipse cx="377.06" cy="290.4" rx="3.5" ry="2.34" fill="url(#gs)"/><circle cx="376.76" cy="288.8" r="2.6" fill="url(#gk)"/>
<ellipse cx="381.21" cy="294.6" rx="3.5" ry="2.34" fill="url(#gs)"/><circle cx="380.91" cy="293" r="2.6" fill="url(#gk)"/>
<ellipse cx="385.36" cy="303.5" rx="3.5" ry="2.34" fill="url(#gs)"/><circle cx="385.06" cy="301.9" r="2.6" fill="url(#gk)"/>
<ellipse cx="389.5" cy="285.2" rx="3.5" ry="2.34" fill="url(#gs)"/><circle cx="389.2" cy="283.6" r="2.6" fill="url(#gk)"/>
<ellipse cx="393.65" cy="287.3" rx="3.5" ry="2.34" fill="url(#gs)"/><circle cx="393.35" cy="285.7" r="2.6" fill="url(#gk)"/>
<ellipse cx="397.79" cy="289" rx="3.5" ry="2.34" fill="url(#gs)"/><circle cx="397.49" cy="287.4" r="2.6" fill="url(#gk)"/>
<ellipse cx="401.94" cy="292.5" rx="3.5" ry="2.34" fill="url(#gs)"/><circle cx="401.63" cy="290.9" r="2.6" fill="url(#gk)"/>
<ellipse cx="406.08" cy="284.8" rx="3.5" ry="2.34" fill="url(#gs)"/><circle cx="405.78" cy="283.2" r="2.6" fill="url(#gk)"/>
<ellipse cx="410.23" cy="294.6" rx="3.5" ry="2.34" fill="url(#gs)"/><circle cx="409.93" cy="293" r="2.6" fill="url(#gk)"/>
<ellipse cx="414.37" cy="294.6" rx="3.5" ry="2.34" fill="url(#gs)"/><circle cx="414.07" cy="293" r="2.6" fill="url(#gk)"/>
<ellipse cx="418.52" cy="294.6" rx="3.5" ry="2.34" fill="url(#gs)"/><circle cx="418.22" cy="293" r="2.6" fill="url(#gk)"/>
<ellipse cx="422.66" cy="288.3" rx="3.5" ry="2.34" fill="url(#gs)"/><circle cx="422.36" cy="286.7" r="2.6" fill="url(#gk)"/>
<ellipse cx="426.81" cy="275.4" rx="3.5" ry="2.34" fill="url(#gs)"/><circle cx="426.5" cy="273.8" r="2.6" fill="url(#gk)"/>
<ellipse cx="430.95" cy="294.6" rx="3.5" ry="2.34" fill="url(#gs)"/><circle cx="430.65" cy="293" r="2.6" fill="url(#gk)"/>
<ellipse cx="435.09" cy="285.5" rx="3.5" ry="2.34" fill="url(#gs)"/><circle cx="434.79" cy="283.9" r="2.6" fill="url(#gk)"/>
<ellipse cx="439.24" cy="294.6" rx="3.5" ry="2.34" fill="url(#gs)"/><circle cx="438.94" cy="293" r="2.6" fill="url(#gk)"/>
<ellipse cx="443.39" cy="284" rx="3.5" ry="2.34" fill="url(#gs)"/><circle cx="443.09" cy="282.4" r="2.6" fill="url(#gk)"/>
<ellipse cx="447.53" cy="294.6" rx="3.5" ry="2.34" fill="url(#gs)"/><circle cx="447.23" cy="293" r="2.6" fill="url(#gk)"/>
<ellipse cx="451.68" cy="266.2" rx="3.5" ry="2.34" fill="url(#gs)"/><circle cx="451.38" cy="264.6" r="2.6" fill="url(#gk)"/>
<ellipse cx="455.82" cy="278.1" rx="3.5" ry="2.34" fill="url(#gs)"/><circle cx="455.52" cy="276.5" r="2.6" fill="url(#gk)"/>
<ellipse cx="459.96" cy="294.6" rx="3.5" ry="2.34" fill="url(#gs)"/><circle cx="459.66" cy="293" r="2.6" fill="url(#gk)"/>
<ellipse cx="464.11" cy="292.5" rx="3.5" ry="2.34" fill="url(#gs)"/><circle cx="463.81" cy="290.9" r="2.6" fill="url(#gk)"/>
<ellipse cx="468.25" cy="293.4" rx="3.5" ry="2.34" fill="url(#gs)"/><circle cx="467.95" cy="291.8" r="2.6" fill="url(#gk)"/>
<ellipse cx="472.4" cy="296.4" rx="3.5" ry="2.34" fill="url(#gs)"/><circle cx="472.1" cy="294.8" r="2.6" fill="url(#gk)"/>
<ellipse cx="476.55" cy="291.8" rx="3.5" ry="2.34" fill="url(#gs)"/><circle cx="476.25" cy="290.2" r="2.6" fill="url(#gk)"/>
<ellipse cx="480.69" cy="288.6" rx="3.5" ry="2.34" fill="url(#gs)"/><circle cx="480.39" cy="287" r="2.6" fill="url(#gk)"/>
<ellipse cx="484.83" cy="318.7" rx="3.5" ry="2.34" fill="url(#gs)"/><circle cx="484.53" cy="317.1" r="2.6" fill="url(#gk)"/>
<ellipse cx="488.98" cy="305" rx="3.5" ry="2.34" fill="url(#gs)"/><circle cx="488.68" cy="303.4" r="2.6" fill="url(#gk)"/>
<ellipse cx="493.12" cy="287.3" rx="3.5" ry="2.34" fill="url(#gs)"/><circle cx="492.82" cy="285.7" r="2.6" fill="url(#gk)"/>
<ellipse cx="497.27" cy="297.6" rx="3.5" ry="2.34" fill="url(#gs)"/><circle cx="496.97" cy="296" r="2.6" fill="url(#gk)"/>
<ellipse cx="501.42" cy="283.2" rx="3.5" ry="2.34" fill="url(#gs)"/><circle cx="501.12" cy="281.6" r="2.6" fill="url(#gk)"/>
<ellipse cx="505.56" cy="269.5" rx="3.5" ry="2.34" fill="url(#gs)"/><circle cx="505.26" cy="267.9" r="2.6" fill="url(#gk)"/>
<ellipse cx="509.7" cy="305.3" rx="3.5" ry="2.34" fill="url(#gs)"/><circle cx="509.4" cy="303.7" r="2.6" fill="url(#gk)"/>
<text x="323.8" y="221.6" class="tt">(e) SVM</text>
<text x="371.3" y="339.2" class="ob">Observations</text>
<text transform="translate(277 315) rotate(-90)" class="rs">Residuals</text>
<line x1="582.1" y1="288.6" x2="787" y2="288.6" stroke="#d2302a" stroke-width="1.5" stroke-dasharray="4.8 2.4 1.5 2.4"/>
<path d="M582.1 228.7V347.9M582.1 228.7H585.1M582.1 243.6H585.1M582.1 258.5H585.1M582.1 273.4H585.1M582.1 288.3H585.1M582.1 303.2H585.1M582.1 318.1H585.1M582.1 333H585.1M582.1 347.9H585.1" stroke="#595959" stroke-width="1.3" fill="none"/>
<text x="573.8" y="232.05" text-anchor="end" class="tk">0.8</text>
<text x="573.8" y="246.95" text-anchor="end" class="tk">0.6</text>
<text x="573.8" y="261.85" text-anchor="end" class="tk">0.4</text>
<text x="573.8" y="276.75" text-anchor="end" class="tk">0.2</text>
<text x="573.8" y="291.65" text-anchor="end" class="tk">0</text>
<text x="573.8" y="306.55" text-anchor="end" class="tk">-0.2</text>
<text x="573.8" y="321.45" text-anchor="end" class="tk">-0.4</text>
<text x="573.8" y="336.35" text-anchor="end" class="tk">-0.6</text>
<text x="573.8" y="351.25" text-anchor="end" class="tk">-0.8</text>
<ellipse cx="582.1" cy="304.5" rx="3.5" ry="2.34" fill="url(#gs)"/><circle cx="581.8" cy="302.9" r="2.6" fill="url(#gk)"/>
<ellipse cx="586.28" cy="290.2" rx="3.5" ry="2.34" fill="url(#gs)"/><circle cx="585.98" cy="288.6" r="2.6" fill="url(#gk)"/>
<ellipse cx="590.47" cy="299.6" rx="3.5" ry="2.34" fill="url(#gs)"/><circle cx="590.17" cy="298" r="2.6" fill="url(#gk)"/>
<ellipse cx="594.65" cy="288.6" rx="3.5" ry="2.34" fill="url(#gs)"/><circle cx="594.35" cy="287" r="2.6" fill="url(#gk)"/>
<ellipse cx="598.84" cy="297.5" rx="3.5" ry="2.34" fill="url(#gs)"/><circle cx="598.54" cy="295.9" r="2.6" fill="url(#gk)"/>
<ellipse cx="603.02" cy="288.3" rx="3.5" ry="2.34" fill="url(#gs)"/><circle cx="602.72" cy="286.7" r="2.6" fill="url(#gk)"/>
<ellipse cx="607.2" cy="283.7" rx="3.5" ry="2.34" fill="url(#gs)"/><circle cx="606.9" cy="282.1" r="2.6" fill="url(#gk)"/>
<ellipse cx="611.39" cy="290.4" rx="3.5" ry="2.34" fill="url(#gs)"/><circle cx="611.09" cy="288.8" r="2.6" fill="url(#gk)"/>
<ellipse cx="615.57" cy="289.4" rx="3.5" ry="2.34" fill="url(#gs)"/><circle cx="615.27" cy="287.8" r="2.6" fill="url(#gk)"/>
<ellipse cx="619.76" cy="276.1" rx="3.5" ry="2.34" fill="url(#gs)"/><circle cx="619.46" cy="274.5" r="2.6" fill="url(#gk)"/>
<ellipse cx="623.94" cy="290.2" rx="3.5" ry="2.34" fill="url(#gs)"/><circle cx="623.64" cy="288.6" r="2.6" fill="url(#gk)"/>
<ellipse cx="628.12" cy="274.5" rx="3.5" ry="2.34" fill="url(#gs)"/><circle cx="627.82" cy="272.9" r="2.6" fill="url(#gk)"/>
<ellipse cx="632.31" cy="293.7" rx="3.5" ry="2.34" fill="url(#gs)"/><circle cx="632.01" cy="292.1" r="2.6" fill="url(#gk)"/>
<ellipse cx="636.49" cy="291.8" rx="3.5" ry="2.34" fill="url(#gs)"/><circle cx="636.19" cy="290.2" r="2.6" fill="url(#gk)"/>
<ellipse cx="640.68" cy="288.7" rx="3.5" ry="2.34" fill="url(#gs)"/><circle cx="640.38" cy="287.1" r="2.6" fill="url(#gk)"/>
<ellipse cx="644.86" cy="287.3" rx="3.5" ry="2.34" fill="url(#gs)"/><circle cx="644.56" cy="285.7" r="2.6" fill="url(#gk)"/>
<ellipse cx="649.04" cy="272.4" rx="3.5" ry="2.34" fill="url(#gs)"/><circle cx="648.74" cy="270.8" r="2.6" fill="url(#gk)"/>
<ellipse cx="653.23" cy="288.9" rx="3.5" ry="2.34" fill="url(#gs)"/><circle cx="652.93" cy="287.3" r="2.6" fill="url(#gk)"/>
<ellipse cx="657.41" cy="291.8" rx="3.5" ry="2.34" fill="url(#gs)"/><circle cx="657.11" cy="290.2" r="2.6" fill="url(#gk)"/>
<ellipse cx="661.6" cy="294.6" rx="3.5" ry="2.34" fill="url(#gs)"/><circle cx="661.3" cy="293" r="2.6" fill="url(#gk)"/>
<ellipse cx="665.78" cy="281.6" rx="3.5" ry="2.34" fill="url(#gs)"/><circle cx="665.48" cy="280" r="2.6" fill="url(#gk)"/>
<ellipse cx="669.96" cy="285.9" rx="3.5" ry="2.34" fill="url(#gs)"/><circle cx="669.66" cy="284.3" r="2.6" fill="url(#gk)"/>
<ellipse cx="674.15" cy="289.4" rx="3.5" ry="2.34" fill="url(#gs)"/><circle cx="673.85" cy="287.8" r="2.6" fill="url(#gk)"/>
<ellipse cx="678.33" cy="297.1" rx="3.5" ry="2.34" fill="url(#gs)"/><circle cx="678.03" cy="295.5" r="2.6" fill="url(#gk)"/>
<ellipse cx="682.52" cy="284.2" rx="3.5" ry="2.34" fill="url(#gs)"/><circle cx="682.22" cy="282.6" r="2.6" fill="url(#gk)"/>
<ellipse cx="686.7" cy="290.6" rx="3.5" ry="2.34" fill="url(#gs)"/><circle cx="686.4" cy="289" r="2.6" fill="url(#gk)"/>
<ellipse cx="690.88" cy="289.6" rx="3.5" ry="2.34" fill="url(#gs)"/><circle cx="690.58" cy="288" r="2.6" fill="url(#gk)"/>
<ellipse cx="695.07" cy="296.7" rx="3.5" ry="2.34" fill="url(#gs)"/><circle cx="694.77" cy="295.1" r="2.6" fill="url(#gk)"/>
<ellipse cx="699.25" cy="291.5" rx="3.5" ry="2.34" fill="url(#gs)"/><circle cx="698.95" cy="289.9" r="2.6" fill="url(#gk)"/>
<ellipse cx="703.44" cy="279.4" rx="3.5" ry="2.34" fill="url(#gs)"/><circle cx="703.14" cy="277.8" r="2.6" fill="url(#gk)"/>
<ellipse cx="707.62" cy="291.7" rx="3.5" ry="2.34" fill="url(#gs)"/><circle cx="707.32" cy="290.1" r="2.6" fill="url(#gk)"/>
<ellipse cx="711.8" cy="293.4" rx="3.5" ry="2.34" fill="url(#gs)"/><circle cx="711.5" cy="291.8" r="2.6" fill="url(#gk)"/>
<ellipse cx="715.99" cy="305.8" rx="3.5" ry="2.34" fill="url(#gs)"/><circle cx="715.69" cy="304.2" r="2.6" fill="url(#gk)"/>
<ellipse cx="720.17" cy="292.5" rx="3.5" ry="2.34" fill="url(#gs)"/><circle cx="719.87" cy="290.9" r="2.6" fill="url(#gk)"/>
<ellipse cx="724.36" cy="285.6" rx="3.5" ry="2.34" fill="url(#gs)"/><circle cx="724.06" cy="284" r="2.6" fill="url(#gk)"/>
<ellipse cx="728.54" cy="278" rx="3.5" ry="2.34" fill="url(#gs)"/><circle cx="728.24" cy="276.4" r="2.6" fill="url(#gk)"/>
<ellipse cx="732.72" cy="295.9" rx="3.5" ry="2.34" fill="url(#gs)"/><circle cx="732.42" cy="294.3" r="2.6" fill="url(#gk)"/>
<ellipse cx="736.91" cy="305.5" rx="3.5" ry="2.34" fill="url(#gs)"/><circle cx="736.61" cy="303.9" r="2.6" fill="url(#gk)"/>
<ellipse cx="741.09" cy="301.3" rx="3.5" ry="2.34" fill="url(#gs)"/><circle cx="740.79" cy="299.7" r="2.6" fill="url(#gk)"/>
<ellipse cx="745.28" cy="289.1" rx="3.5" ry="2.34" fill="url(#gs)"/><circle cx="744.98" cy="287.5" r="2.6" fill="url(#gk)"/>
<ellipse cx="749.46" cy="296.7" rx="3.5" ry="2.34" fill="url(#gs)"/><circle cx="749.16" cy="295.1" r="2.6" fill="url(#gk)"/>
<ellipse cx="753.64" cy="295.4" rx="3.5" ry="2.34" fill="url(#gs)"/><circle cx="753.34" cy="293.8" r="2.6" fill="url(#gk)"/>
<ellipse cx="757.83" cy="293.4" rx="3.5" ry="2.34" fill="url(#gs)"/><circle cx="757.53" cy="291.8" r="2.6" fill="url(#gk)"/>
<ellipse cx="762.01" cy="310.9" rx="3.5" ry="2.34" fill="url(#gs)"/><circle cx="761.71" cy="309.3" r="2.6" fill="url(#gk)"/>
<ellipse cx="766.2" cy="298.4" rx="3.5" ry="2.34" fill="url(#gs)"/><circle cx="765.9" cy="296.8" r="2.6" fill="url(#gk)"/>
<ellipse cx="770.38" cy="289.1" rx="3.5" ry="2.34" fill="url(#gs)"/><circle cx="770.08" cy="287.5" r="2.6" fill="url(#gk)"/>
<ellipse cx="774.56" cy="299.6" rx="3.5" ry="2.34" fill="url(#gs)"/><circle cx="774.26" cy="298" r="2.6" fill="url(#gk)"/>
<ellipse cx="778.75" cy="285.3" rx="3.5" ry="2.34" fill="url(#gs)"/><circle cx="778.45" cy="283.7" r="2.6" fill="url(#gk)"/>
<ellipse cx="782.93" cy="272.3" rx="3.5" ry="2.34" fill="url(#gs)"/><circle cx="782.63" cy="270.7" r="2.6" fill="url(#gk)"/>
<ellipse cx="787.12" cy="289.1" rx="3.5" ry="2.34" fill="url(#gs)"/><circle cx="786.82" cy="287.5" r="2.6" fill="url(#gk)"/>
<text x="589.9" y="219.6" class="tt">(f) ANN</text>
<text x="644.9" y="336.4" class="ob">Observations</text>
<text transform="translate(553.3 319.7) rotate(-90)" class="rs">Residuals</text>
</svg>
</body></html>
